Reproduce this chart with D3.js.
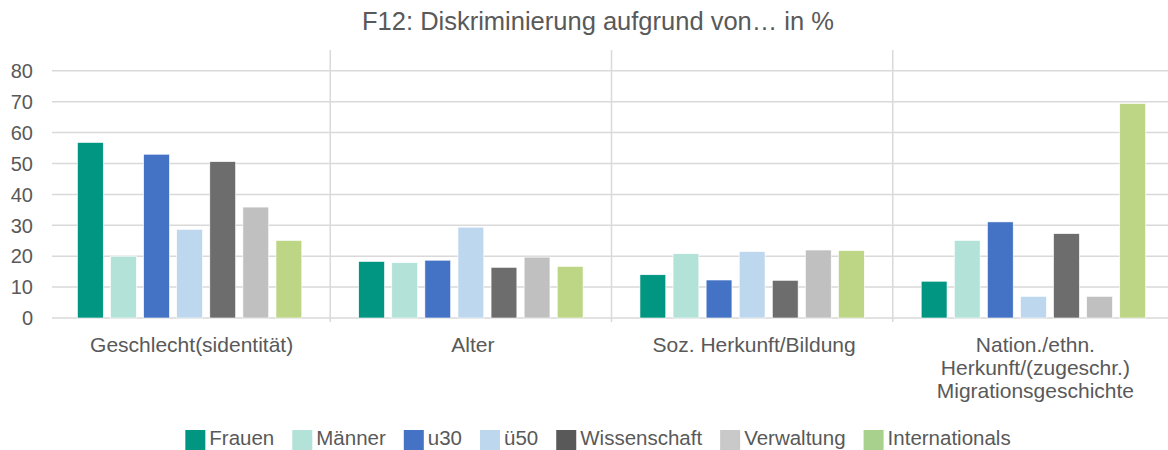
<!DOCTYPE html>
<html>
<head>
<meta charset="utf-8">
<script src="https://cdn.jsdelivr.net/npm/d3@7"></script>
<style>
  body { margin: 0; background: #fff; }
  svg { display: block; font-family: "Liberation Sans", Arial, sans-serif; }
</style>
</head>
<body>
<div id="chart"></div>
<script>
// data
var categories = ["Geschlecht(sidentität)", "Alter", "Soz. Herkunft/Bildung",
  "Nation./ethn. Herkunft/(zugeschr.) Migrationsgeschichte"];
var catLines = [["Geschlecht(sidentität)"], ["Alter"], ["Soz. Herkunft/Bildung"],
  ["Nation./ethn.", "Herkunft/(zugeschr.)", "Migrationsgeschichte"]];
var series = ["Frauen", "Männer", "u30", "ü50", "Wissenschaft", "Verwaltung", "Internationals"];
var frauen = [56.8, 18.3, 14.0, 11.9];
var maenner = [20.0, 17.9, 20.8, 25.1];
var u30 = [53.0, 18.7, 12.3, 31.1];
var ue50 = [28.7, 29.4, 21.5, 7.0];
var wissenschaft = [50.6, 16.4, 12.2, 27.3];
var verwaltung = [35.9, 19.7, 22.0, 7.0];
var internationals = [25.1, 16.7, 21.8, 69.4];
var yTicks = [0, 10, 20, 30, 40, 50, 60, 70, 80];
var title = "F12: Diskriminierung aufgrund von… in %";

var values = [frauen, maenner, u30, ue50, wissenschaft, verwaltung, internationals];
var barColors = ["#009681", "#b3e2d8", "#4472c4", "#bdd7ee", "#6d6d6d", "#c0c0c0", "#bcd686"];
var legendColors = ["#009681", "#b3e2d8", "#4472c4", "#bdd7ee", "#595959", "#c9c9c9", "#a9d18e"];

var W = 1168, H = 450;
var plotLeft = 49, plotRight = 1174, plotTop = 50, plotBottom = 318;
var textColor = "#595959", gridColor = "#d9d9d9";

var svg = d3.select("#chart").append("svg")
  .attr("width", W).attr("height", H);

var x = d3.scaleBand().domain(categories).range([plotLeft, plotRight]);
var xs = d3.scaleBand().domain(series).range([0, x.bandwidth()])
  .paddingInner(0.22).paddingOuter(0.86);
var y = d3.scaleLinear().domain([0, 80]).range([plotBottom, plotBottom - 80 * 3.09]);

// gridlines
svg.append("g").selectAll("line").data(yTicks).enter().append("line")
  .attr("x1", plotLeft + 3).attr("x2", plotRight)
  .attr("y1", d => y(d)).attr("y2", d => y(d))
  .attr("stroke", gridColor).attr("stroke-width", 1.5);

// category separators
var seps = d3.range(1, categories.length).map(i => plotLeft + i * x.step());
svg.append("g").selectAll("line").data(seps).enter().append("line")
  .attr("x1", d => d).attr("x2", d => d)
  .attr("y1", plotTop).attr("y2", plotBottom + 4)
  .attr("stroke", gridColor).attr("stroke-width", 1.5);

// y labels
svg.append("g").selectAll("text").data(yTicks).enter().append("text")
  .attr("x", 33).attr("y", d => y(d)).attr("dy", "0.36em")
  .attr("text-anchor", "end").attr("font-size", 20).attr("fill", textColor)
  .text(d => d);

// bars
var groups = svg.append("g").selectAll("g").data(categories).enter().append("g")
  .attr("transform", d => "translate(" + x(d) + ",0)");
groups.selectAll("rect")
  .data((c, ci) => series.map((s, si) => ({s: s, si: si, v: values[si][ci]})))
  .enter().append("rect")
  .attr("x", d => xs(d.s))
  .attr("width", xs.bandwidth())
  .attr("y", d => y(d.v))
  .attr("height", d => y(0) - y(d.v))
  .attr("fill", d => barColors[d.si])
  .attr("stroke", "#fff").attr("stroke-width", 0.6);

// category labels
categories.forEach(function(c, i) {
  var cxl = x(c) + x.bandwidth() / 2 + 2;
  var t = svg.append("text")
    .attr("x", cxl).attr("y", 352)
    .attr("text-anchor", "middle").attr("font-size", 21).attr("fill", textColor);
  catLines[i].forEach(function(l, j) {
    t.append("tspan").attr("x", cxl).attr("dy", j == 0 ? 0 : 23).text(l);
  });
});

// title
svg.append("text").attr("x", 598).attr("y", 30)
  .attr("text-anchor", "middle").attr("font-size", 25.5).attr("fill", textColor)
  .text(title);

// legend
var leg = svg.append("g");
var cx = 0;
series.forEach(function(s, i) {
  var g = leg.append("g").attr("transform", "translate(" + cx + ",0)");
  g.append("rect").attr("x", 0).attr("y", 430).attr("width", 20).attr("height", 20)
    .attr("fill", legendColors[i]);
  var t = g.append("text").attr("x", 24).attr("y", 445)
    .attr("font-size", 20.5).attr("fill", textColor).text(s);
  cx += 24 + t.node().getComputedTextLength() + 18;
});
var legW = cx - 18;
leg.attr("transform", "translate(" + (598 - legW / 2) + ",0)");
</script>
</body>
</html>
